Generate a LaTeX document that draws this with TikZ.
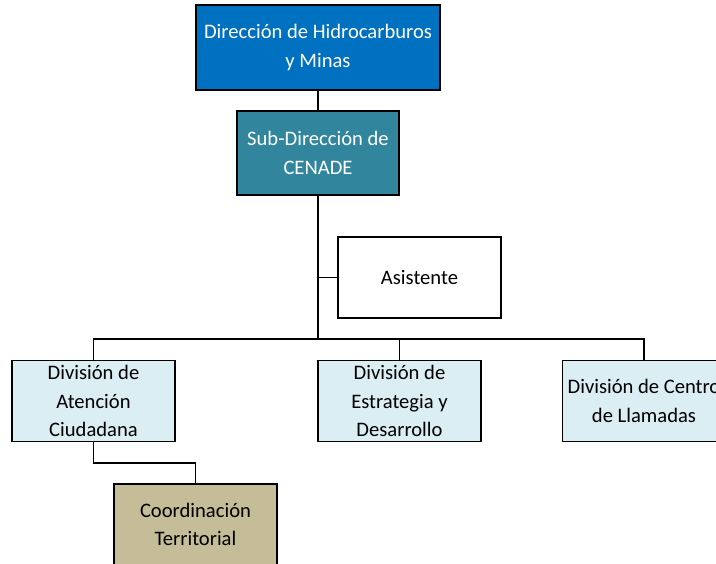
\documentclass[tikz,border=0pt]{standalone}
\usepackage{fontspec}
\setmainfont{Carlito}
\definecolor{dirblue}{HTML}{0070C0}
\definecolor{subteal}{HTML}{31859C}
\definecolor{divblue}{HTML}{DAEEF3}
\definecolor{coordtan}{HTML}{C4BD97}
\tikzset{
  orgbox/.style={draw=black, line width=1.3pt, rectangle, minimum width=163pt, minimum height=81pt, inner sep=0pt, align=center, font=\fontsize{20.6pt}{28.5pt}\selectfont},
  link/.style={draw=black, line width=1.3pt}
}
\begin{document}
\begin{tikzpicture}[x=1pt,y=-1pt]
\useasboundingbox (0,0) rectangle (716,564);
\clip (0,0) rectangle (716,564);
\node[orgbox, fill=dirblue, text=white, minimum width=244pt, minimum height=85pt] (dir) at (318,47.5) {Dirección de Hidrocarburos\\y Minas};
\node[orgbox, fill=subteal, text=white, minimum width=162pt, minimum height=84pt] (sub) at (318,153) {Sub-Dirección de\\CENADE};
\node[orgbox, fill=white] (asis) at (419.5,277.5) {Asistente};
\node[orgbox, fill=divblue] (div1) at (93.5,401) {División de\\Atención\\Ciudadana};
\node[orgbox, fill=divblue] (div2) at (399.5,401) {División de\\Estrategia y\\Desarrollo};
\node[orgbox, fill=divblue] (div3) at (644,401) {División de Centro\\de Llamadas};
\node[orgbox, fill=coordtan] (coord) at (195.5,524.5) {Coordinación\\Territorial};
\coordinate (bus) at (318,339);
\draw[link] (dir.south) -- (sub.north);
\draw[link] (sub.south) -- (bus);
\draw[link] (asis.west) -- (asis.west -| sub.south);
\draw[link] (div1.north) |- (bus);
\draw[link] (div2.north) |- (bus);
\draw[link] (div3.north) |- (bus);
\draw[link] (div1.south) -- ++(0,21) -| (coord.north);
\end{tikzpicture}
\end{document}
